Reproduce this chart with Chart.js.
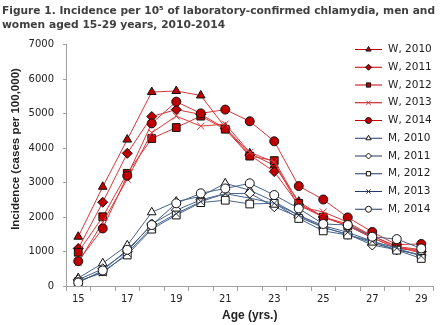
<!DOCTYPE html>
<html>
<head>
<meta charset="utf-8">
<script src="https://cdn.jsdelivr.net/npm/chart.js@4.4.1/dist/chart.umd.min.js"></script>
<style>
  html, body { margin: 0; padding: 0; background: #fff; }
  #wrap { width: 440px; height: 325px; position: relative; }
</style>
</head>
<body>
<div id="wrap"><canvas id="myChart"></canvas></div>
<script>
// Age groups (x axis)
const ages = [15, 16, 17, 18, 19, 20, 21, 22, 23, 24, 25, 26, 27, 28, 29];

// Women, incidence per 100,000
const women2010 = [1430, 2880, 4250, 5630, 5660, 5530, 4600, 3850, 3500, 2450, 2000, 1800, 1450, 1150, 1050];
const women2011 = [1090, 2430, 3850, 4920, 5120, 4980, 4580, 3800, 3320, 2350, 2000, 1750, 1400, 1100, 1000];
const women2012 = [980, 2010, 3270, 4280, 4600, 4930, 4550, 3770, 3640, 2400, 2000, 1750, 1400, 1100, 1050];
const women2013 = [680, 1850, 3100, 4450, 4930, 4640, 4700, 3880, 3600, 2300, 2150, 1850, 1450, 1150, 950];
const women2014 = [720, 1670, 3200, 4720, 5350, 5010, 5120, 4780, 4200, 2900, 2510, 1990, 1570, 1200, 1220];

// Men, incidence per 100,000
const men2010 = [230, 660, 1180, 2140, 2450, 2600, 2980, 2780, 2450, 2050, 1700, 1500, 1250, 1050, 900];
const men2011 = [180, 500, 1000, 1800, 2200, 2500, 2680, 2690, 2300, 2000, 1700, 1500, 1190, 1050, 900];
const men2012 = [120, 420, 900, 1650, 2060, 2420, 2490, 2380, 2400, 1960, 1600, 1480, 1300, 1040, 800];
const men2013 = [150, 380, 950, 1700, 2100, 2450, 2680, 2550, 2400, 2050, 1750, 1560, 1300, 1100, 870];
const men2014 = [100, 450, 1050, 1770, 2400, 2690, 2830, 2980, 2640, 2250, 1800, 1770, 1430, 1360, 1090];

// Y axis ticks
const yTicks = [0, 1000, 2000, 3000, 4000, 5000, 6000, 7000];

const RED_LINE = '#d8363a';
const RED_KEY = '#c00000';
const RED_FILL = '#c00000';
const BLUE_LINE = '#46638c';
const BLUE_KEY = '#1f3864';

let seriesCount = 0;

function series(label, data, shape, women, radius) {
  const cross = shape === 'crossRot';
  seriesCount++;
  return {
    label: label,
    data: data,
    // later series are painted over earlier ones
    order: 20 - seriesCount,
    borderColor: women ? RED_LINE : BLUE_LINE,
    keyColor: women ? RED_KEY : BLUE_KEY,
    borderWidth: 1,
    pointStyle: shape,
    pointRadius: radius,
    pointHoverRadius: radius,
    pointBackgroundColor: cross ? 'transparent' : (women ? RED_FILL : '#ffffff'),
    pointBorderColor: cross ? (women ? '#e0383c' : '#333333') : '#111111',
    pointBorderWidth: 1,
    fill: false,
    tension: 0
  };
}

// legend drawn inside the plot area, plus the rotated y axis title
const sideLegend = {
  id: 'sideLegend',
  afterDraw(chart) {
    const ctx = chart.ctx;
    ctx.save();
    chart.data.datasets.forEach((ds, i) => {
      const y = 49.5 + i * 17.75;
      ctx.strokeStyle = ds.keyColor;
      ctx.lineWidth = 1;
      ctx.beginPath();
      ctx.moveTo(355, y);
      ctx.lineTo(382, y);
      ctx.stroke();
      ctx.fillStyle = ds.pointBackgroundColor;
      ctx.strokeStyle = ds.pointBorderColor;
      Chart.helpers.drawPoint(ctx, { pointStyle: ds.pointStyle, radius: 3, borderWidth: 1, rotation: 0 }, 368.5, y);
      ctx.fillStyle = '#222222';
      ctx.font = '10.5px "DejaVu Sans"';
      ctx.textAlign = 'left';
      ctx.textBaseline = 'middle';
      ctx.fillText(ds.label, 388, y);
    });

    ctx.translate(16, 149);
    ctx.rotate(-Math.PI / 2);
    ctx.fillStyle = '#222222';
    ctx.font = 'bold 11.5px "Liberation Sans"';
    ctx.textAlign = 'center';
    ctx.textBaseline = 'middle';
    ctx.fillText('Incidence (cases per 100,000)', 0, 0);
    ctx.restore();
  }
};

const ctx = document.getElementById('myChart').getContext('2d');

const myChart = new Chart(ctx, {
  type: 'line',
  data: {
    labels: ages,
    datasets: [
      series('W, 2010', women2010, 'triangle', true, 5),
      series('W, 2011', women2011, 'rectRot', true, 5),
      series('W, 2012', women2012, 'rect', true, 5.5),
      series('W, 2013', women2013, 'crossRot', true, 5),
      series('W, 2014', women2014, 'circle', true, 4.5),
      series('M, 2010', men2010, 'triangle', false, 5),
      series('M, 2011', men2011, 'rectRot', false, 5),
      series('M, 2012', men2012, 'rect', false, 5.5),
      series('M, 2013', men2013, 'crossRot', false, 5),
      series('M, 2014', men2014, 'circle', false, 4.5)
    ]
  },
  options: {
    responsive: true,
    maintainAspectRatio: false,
    animation: false,
    layout: { padding: { left: 2, right: 5, top: 0, bottom: 0 } },
    plugins: {
      legend: { display: false },
      tooltip: { enabled: false },
      title: {
        display: true,
        text: ['Figure 1. Incidence per 10\u2075 of laboratory-confirmed chlamydia, men and',
               'women aged 15-29 years, 2010-2014'],
        align: 'start',
        color: '#404040',
        font: { family: '"DejaVu Sans"', size: 10.7, weight: 'bold', lineHeight: 1.3 },
        padding: { top: 4, bottom: 13 }
      }
    },
    scales: {
      x: {
        offset: true,
        afterFit(scale) { scale.height = 39; },
        grid: { offset: true, drawOnChartArea: false, drawTicks: true, tickLength: 5, color: '#a0a0a0' },
        border: { color: '#a0a0a0' },
        ticks: {
          autoSkip: false,
          maxRotation: 0,
          padding: 2,
          color: '#222222',
          font: { family: '"DejaVu Sans"', size: 10 },
          callback: (v, i) => (i % 2 === 0 ? ages[i] : '')
        },
        title: {
          display: true,
          text: 'Age (yrs.)',
          color: '#222222',
          font: { family: '"Liberation Sans"', size: 12, weight: 'bold' },
          padding: { top: 0, bottom: 2 }
        }
      },
      y: {
        min: yTicks[0],
        max: yTicks[yTicks.length - 1],
        afterFit(scale) { scale.width = 64; },
        afterBuildTicks(scale) { scale.ticks = yTicks.map(v => ({ value: v })); },
        grid: { drawOnChartArea: false, drawTicks: true, tickLength: 3, color: '#a0a0a0' },
        border: { color: '#a0a0a0' },
        ticks: {
          padding: 9,
          color: '#222222',
          font: { family: '"DejaVu Sans"', size: 10 },
          callback: (v) => String(v)
        }
      }
    }
  },
  plugins: [sideLegend]
});
</script>
</body>
</html>
